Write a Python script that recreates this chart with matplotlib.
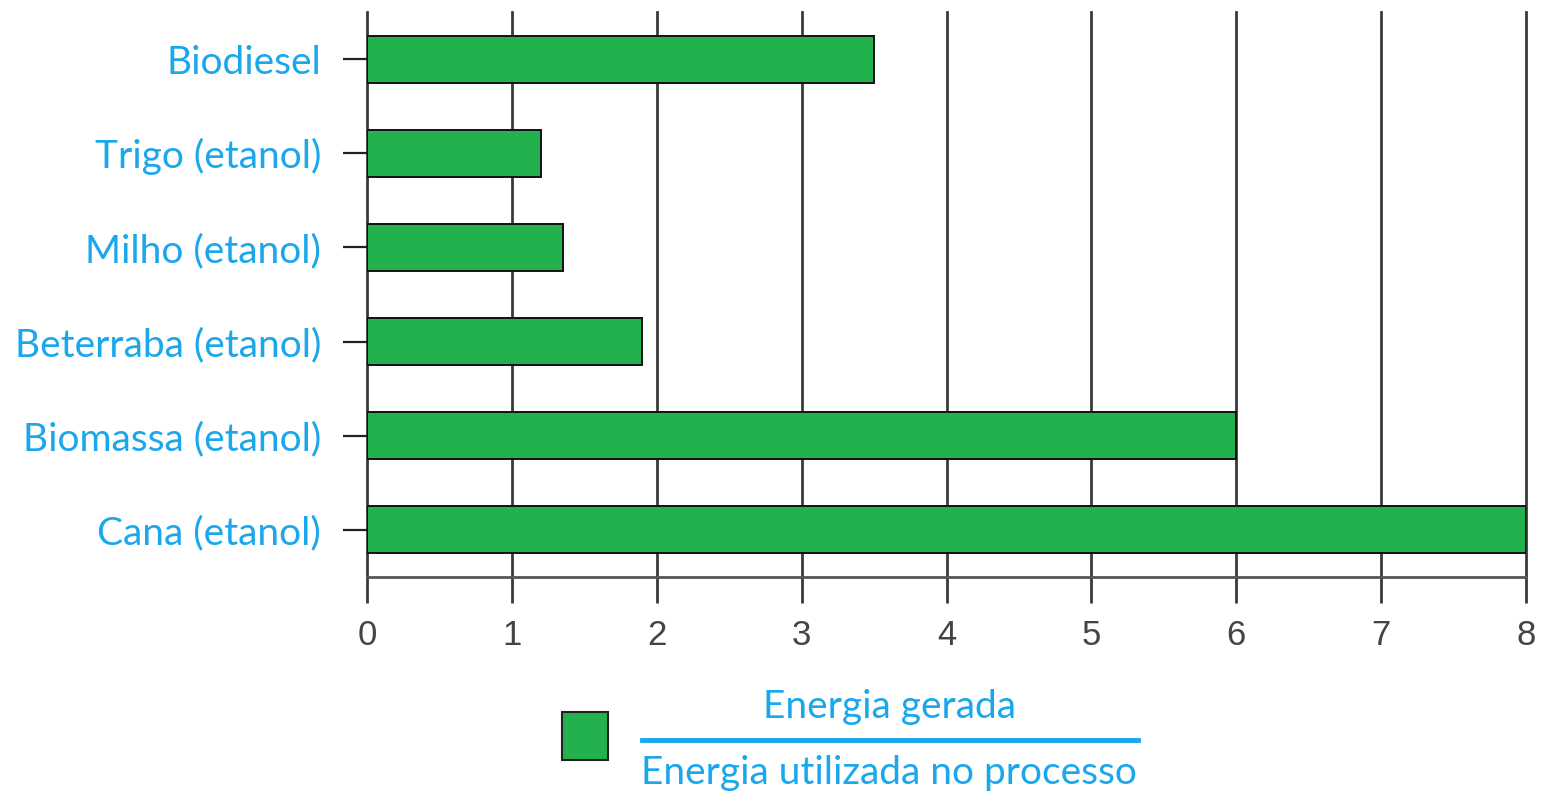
import matplotlib
matplotlib.use('Agg')
from matplotlib import pyplot as plt
from matplotlib import font_manager
from matplotlib.patches import Rectangle
from matplotlib.lines import Line2D

# data, bottom to top
categories = ['Cana (etanol)', 'Biomassa (etanol)', 'Beterraba (etanol)',
              'Milho (etanol)', 'Trigo (etanol)', 'Biodiesel']
ratios = [8.0, 6.0, 1.9, 1.35, 1.2, 3.5]
xticks = [0, 1, 2, 3, 4, 5, 6, 7, 8]

BLUE = '#1AA7EC'
GREEN = '#22B14C'
GRID = '#3a3a3a'


def main():
    names = {f.name for f in font_manager.fontManager.ttflist}
    digit_font = 'Liberation Sans Narrow' if 'Liberation Sans Narrow' in names else 'Liberation Sans'

    fig = plt.figure(figsize=(15.42, 7.94), dpi=100)
    ax = fig.add_axes([367 / 1542, 1 - 577 / 794, 1159 / 1542, 565 / 794])

    ypos = list(range(len(categories)))
    ax.barh(ypos, ratios, height=0.5, color=GREEN, edgecolor='#111111',
            linewidth=1.4, zorder=3)

    ax.set_xlim(0, 8)
    ax.set_ylim(-0.5, 5.5)
    ax.set_xticks(xticks)
    ax.set_yticks(ypos)
    ax.set_yticklabels(categories)

    for x in xticks:
        ax.axvline(x, color=GRID, linewidth=2, zorder=1, clip_on=False)

    for side in ['top', 'left', 'right']:
        ax.spines[side].set_visible(False)
    ax.spines['bottom'].set_color('#555555')
    ax.spines['bottom'].set_linewidth(2)

    ax.tick_params(axis='x', length=19, width=2, color=GRID, pad=11,
                   labelsize=25, labelcolor='#444444')
    ax.tick_params(axis='y', length=17, width=1.6, color='#222222', pad=16,
                   labelsize=28, labelcolor=BLUE)
    for lab in ax.get_xticklabels():
        lab.set_fontfamily(digit_font)
    for lab in ax.get_yticklabels():
        lab.set_fontfamily('Lato')

    # legend: green box and fraction
    fig.patches.append(Rectangle((562 / 1542, 1 - 760 / 794), 46 / 1542, 48 / 794,
                                 transform=fig.transFigure, facecolor=GREEN,
                                 edgecolor='#222222', linewidth=1.5))
    fig.lines.append(Line2D([642 / 1542, 1138 / 1542], [1 - 740 / 794] * 2,
                            transform=fig.transFigure, color=BLUE, linewidth=3.5))
    fig.text(890 / 1542, 1 - 707 / 794, 'Energia gerada', ha='center', va='center',
             fontsize=28, color=BLUE, family='Lato')
    fig.text(889 / 1542, 1 - 773 / 794, 'Energia utilizada no processo', ha='center',
             va='center', fontsize=28, color=BLUE, family='Lato')

    fig.savefig('out.png', dpi=100)


if __name__ == '__main__':
    main()
